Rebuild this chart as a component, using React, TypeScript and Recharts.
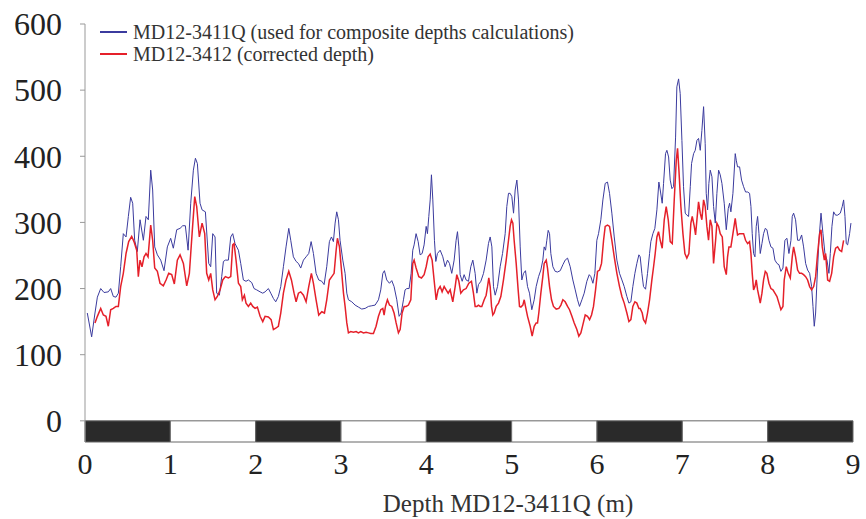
import React from "react"
import { LineChart, Line, XAxis, YAxis, ReferenceArea, Legend } from "recharts"

// depth (m) vs value
const md3411Q: [number, number][] = [
  [0.027, 163], [0.078, 127], [0.117, 163], [0.145, 187], [0.184, 200], [0.223, 194], [0.273, 195], [0.301, 200],
  [0.332, 188], [0.363, 187], [0.391, 193], [0.418, 233], [0.449, 283], [0.481, 278], [0.508, 309], [0.535, 338],
  [0.559, 329], [0.582, 273], [0.613, 256], [0.645, 304], [0.684, 273], [0.715, 309], [0.742, 304], [0.77, 379],
  [0.793, 349], [0.817, 263], [0.848, 251], [0.887, 243], [0.926, 227], [0.965, 263], [1.004, 276], [1.035, 261],
  [1.075, 289], [1.114, 291], [1.145, 295], [1.176, 295], [1.208, 258], [1.239, 329], [1.27, 379], [1.294, 397],
  [1.317, 389], [1.348, 329], [1.372, 319], [1.411, 316], [1.45, 238], [1.473, 233], [1.497, 283], [1.524, 278],
  [1.543, 193], [1.575, 190], [1.602, 218], [1.622, 241], [1.645, 243], [1.68, 243], [1.708, 278], [1.731, 283],
  [1.758, 268], [1.798, 258], [1.825, 238], [1.856, 213], [1.887, 211], [1.915, 213], [1.954, 209], [1.981, 200],
  [2.012, 198], [2.052, 195], [2.083, 193], [2.11, 195], [2.149, 200], [2.177, 193], [2.208, 185], [2.235, 180],
  [2.266, 188], [2.294, 203], [2.325, 233], [2.356, 263], [2.388, 291], [2.411, 273], [2.442, 248], [2.474, 241],
  [2.501, 238], [2.528, 231], [2.56, 243], [2.591, 248], [2.622, 253], [2.65, 271], [2.677, 253], [2.708, 223],
  [2.739, 213], [2.775, 211], [2.802, 206], [2.833, 233], [2.864, 271], [2.888, 278], [2.911, 271], [2.931, 299],
  [2.95, 316], [2.97, 304], [2.989, 273], [3.021, 243], [3.048, 223], [3.068, 193], [3.087, 183], [3.126, 180],
  [3.165, 175], [3.204, 172], [3.243, 169], [3.283, 170], [3.322, 173], [3.361, 174], [3.4, 175], [3.439, 183],
  [3.466, 198], [3.49, 223], [3.509, 227], [3.536, 213], [3.568, 208], [3.595, 212], [3.622, 203], [3.654, 183],
  [3.681, 158], [3.705, 163], [3.732, 183], [3.751, 198], [3.771, 200], [3.798, 200], [3.822, 223], [3.841, 258],
  [3.857, 266], [3.88, 283], [3.904, 271], [3.927, 251], [3.951, 253], [3.974, 266], [3.998, 294], [4.013, 283],
  [4.029, 309], [4.045, 334], [4.06, 372], [4.076, 334], [4.095, 273], [4.111, 241], [4.13, 253], [4.162, 258],
  [4.193, 248], [4.22, 233], [4.248, 243], [4.271, 238], [4.298, 223], [4.326, 243], [4.349, 273], [4.365, 286],
  [4.381, 263], [4.396, 221], [4.42, 211], [4.443, 221], [4.466, 213], [4.494, 211], [4.521, 233], [4.545, 243],
  [4.572, 223], [4.592, 193], [4.611, 206], [4.639, 211], [4.67, 223], [4.701, 243], [4.728, 268], [4.748, 278],
  [4.768, 263], [4.787, 203], [4.807, 190], [4.834, 203], [4.865, 233], [4.893, 253], [4.924, 283], [4.943, 324],
  [4.963, 344], [4.982, 344], [5.002, 339], [5.022, 314], [5.041, 349], [5.061, 364], [5.08, 334], [5.1, 263],
  [5.119, 213], [5.139, 223], [5.162, 227], [5.186, 203], [5.209, 193], [5.236, 168], [5.264, 183], [5.287, 203],
  [5.315, 218], [5.342, 228], [5.365, 243], [5.381, 263], [5.397, 258], [5.412, 273], [5.428, 288], [5.444, 283],
  [5.459, 253], [5.483, 233], [5.51, 226], [5.537, 225], [5.569, 227], [5.6, 236], [5.627, 243], [5.655, 246],
  [5.686, 233], [5.717, 213], [5.745, 198], [5.772, 183], [5.795, 173], [5.823, 183], [5.85, 193], [5.881, 211],
  [5.909, 221], [5.928, 218], [5.952, 208], [5.975, 223], [5.998, 273], [6.018, 283], [6.045, 304], [6.069, 334],
  [6.096, 359], [6.123, 361], [6.147, 344], [6.174, 314], [6.202, 278], [6.233, 243], [6.264, 223], [6.292, 213],
  [6.319, 203], [6.35, 188], [6.374, 178], [6.397, 180], [6.42, 203], [6.444, 223], [6.467, 238], [6.491, 251],
  [6.506, 248], [6.526, 223], [6.545, 203], [6.569, 199], [6.592, 223], [6.616, 253], [6.631, 271], [6.655, 283],
  [6.678, 291], [6.702, 319], [6.725, 361], [6.741, 349], [6.764, 329], [6.78, 359], [6.803, 404], [6.819, 409],
  [6.839, 399], [6.858, 364], [6.878, 351], [6.897, 354], [6.921, 429], [6.936, 505], [6.956, 517], [6.975, 495],
  [6.995, 424], [7.014, 354], [7.034, 314], [7.053, 311], [7.073, 309], [7.093, 354], [7.108, 389], [7.132, 404],
  [7.151, 409], [7.171, 424], [7.19, 427], [7.21, 409], [7.229, 439], [7.249, 475], [7.268, 419], [7.28, 344],
  [7.296, 319], [7.311, 359], [7.327, 379], [7.347, 369], [7.366, 324], [7.386, 299], [7.405, 344], [7.425, 379],
  [7.444, 372], [7.464, 359], [7.491, 329], [7.515, 289], [7.538, 321], [7.554, 329], [7.569, 316], [7.593, 344],
  [7.62, 404], [7.632, 394], [7.647, 384], [7.671, 384], [7.694, 364], [7.718, 354], [7.741, 346], [7.765, 346],
  [7.788, 344], [7.804, 324], [7.819, 283], [7.835, 253], [7.851, 248], [7.866, 294], [7.882, 309], [7.898, 283],
  [7.913, 253], [7.933, 268], [7.952, 283], [7.972, 291], [7.991, 289], [8.015, 273], [8.038, 263], [8.062, 261],
  [8.085, 243], [8.109, 238], [8.132, 236], [8.155, 226], [8.179, 231], [8.202, 273], [8.226, 276], [8.249, 253],
  [8.273, 273], [8.288, 309], [8.304, 314], [8.327, 304], [8.351, 273], [8.374, 273], [8.398, 281], [8.421, 263],
  [8.445, 238], [8.468, 228], [8.492, 223], [8.515, 203], [8.531, 173], [8.546, 143], [8.562, 163], [8.578, 213],
  [8.601, 273], [8.625, 314], [8.648, 283], [8.671, 253], [8.695, 243], [8.718, 223], [8.734, 253], [8.753, 294],
  [8.773, 316], [8.796, 311], [8.82, 311], [8.851, 314], [8.874, 324], [8.89, 334], [8.906, 309], [8.921, 268],
  [8.937, 266], [8.96, 283], [8.976, 299],
]

const md3412: [number, number][] = [
  [0.117, 148], [0.145, 158], [0.184, 170], [0.215, 160], [0.246, 158], [0.273, 143], [0.301, 168], [0.332, 170],
  [0.363, 173], [0.391, 173], [0.418, 203], [0.449, 223], [0.481, 253], [0.512, 271], [0.547, 279], [0.574, 271],
  [0.606, 258], [0.625, 218], [0.645, 243], [0.668, 233], [0.692, 248], [0.715, 253], [0.739, 248], [0.77, 296],
  [0.793, 273], [0.817, 231], [0.848, 226], [0.879, 208], [0.918, 204], [0.95, 213], [0.981, 223], [1.016, 221],
  [1.047, 207], [1.082, 243], [1.114, 251], [1.153, 238], [1.192, 204], [1.223, 223], [1.255, 283], [1.286, 339],
  [1.309, 324], [1.34, 278], [1.372, 299], [1.403, 283], [1.426, 223], [1.45, 213], [1.473, 223], [1.497, 198],
  [1.524, 183], [1.551, 188], [1.583, 198], [1.614, 213], [1.645, 218], [1.68, 216], [1.708, 218], [1.731, 266],
  [1.747, 268], [1.77, 243], [1.798, 208], [1.825, 203], [1.844, 183], [1.868, 190], [1.887, 178], [1.915, 173],
  [1.942, 178], [1.966, 173], [1.993, 170], [2.02, 172], [2.052, 158], [2.083, 150], [2.11, 158], [2.149, 157],
  [2.181, 153], [2.208, 138], [2.235, 140], [2.266, 143], [2.294, 163], [2.325, 193], [2.356, 213], [2.388, 226],
  [2.419, 213], [2.45, 193], [2.474, 180], [2.501, 193], [2.528, 195], [2.56, 190], [2.591, 180], [2.622, 203],
  [2.653, 223], [2.677, 208], [2.708, 183], [2.739, 160], [2.775, 165], [2.806, 163], [2.833, 183], [2.864, 213],
  [2.892, 218], [2.919, 223], [2.943, 258], [2.958, 276], [2.982, 263], [3.009, 223], [3.029, 193], [3.048, 173],
  [3.068, 148], [3.087, 133], [3.114, 135], [3.146, 134], [3.177, 135], [3.204, 133], [3.232, 135], [3.263, 133],
  [3.294, 134], [3.322, 133], [3.349, 132], [3.38, 132], [3.411, 143], [3.439, 158], [3.466, 168], [3.49, 170],
  [3.505, 160], [3.521, 173], [3.544, 183], [3.568, 175], [3.595, 173], [3.622, 163], [3.646, 148], [3.673, 133],
  [3.693, 138], [3.716, 163], [3.74, 173], [3.763, 173], [3.79, 175], [3.818, 183], [3.841, 238], [3.857, 243],
  [3.88, 231], [3.912, 218], [3.943, 216], [3.974, 221], [3.998, 233], [4.021, 248], [4.045, 252], [4.068, 243],
  [4.091, 213], [4.115, 183], [4.138, 198], [4.162, 203], [4.185, 195], [4.209, 203], [4.232, 198], [4.256, 193],
  [4.279, 198], [4.31, 180], [4.338, 203], [4.357, 221], [4.381, 211], [4.404, 193], [4.435, 198], [4.466, 200],
  [4.498, 208], [4.529, 211], [4.552, 193], [4.572, 173], [4.592, 173], [4.611, 175], [4.631, 173], [4.65, 173],
  [4.678, 183], [4.701, 190], [4.717, 203], [4.732, 216], [4.748, 203], [4.764, 173], [4.779, 160], [4.795, 163],
  [4.818, 173], [4.846, 178], [4.873, 188], [4.904, 213], [4.936, 243], [4.963, 273], [4.982, 294], [4.998, 304],
  [5.014, 299], [5.029, 273], [5.053, 238], [5.076, 198], [5.092, 173], [5.108, 172], [5.131, 175], [5.147, 183],
  [5.162, 173], [5.186, 158], [5.217, 143], [5.24, 128], [5.264, 143], [5.287, 148], [5.303, 148], [5.318, 163],
  [5.342, 193], [5.365, 218], [5.381, 238], [5.405, 243], [5.42, 231], [5.444, 203], [5.467, 183], [5.49, 173],
  [5.522, 169], [5.553, 170], [5.577, 175], [5.6, 183], [5.627, 180], [5.655, 173], [5.678, 168], [5.706, 158],
  [5.733, 148], [5.764, 138], [5.787, 128], [5.811, 133], [5.834, 145], [5.862, 160], [5.889, 158], [5.913, 153],
  [5.936, 160], [5.959, 173], [5.983, 198], [6.006, 226], [6.03, 228], [6.053, 238], [6.077, 273], [6.096, 294],
  [6.123, 296], [6.147, 294], [6.174, 273], [6.202, 248], [6.233, 223], [6.264, 203], [6.292, 188], [6.319, 178],
  [6.35, 163], [6.374, 150], [6.397, 153], [6.42, 173], [6.444, 180], [6.467, 178], [6.491, 170], [6.506, 170],
  [6.53, 163], [6.545, 153], [6.569, 148], [6.592, 163], [6.616, 183], [6.643, 213], [6.663, 233], [6.682, 253],
  [6.702, 278], [6.721, 286], [6.741, 273], [6.764, 261], [6.788, 304], [6.811, 324], [6.835, 304], [6.858, 271],
  [6.882, 268], [6.905, 334], [6.929, 394], [6.944, 412], [6.96, 379], [6.983, 324], [7.007, 283], [7.03, 253],
  [7.053, 246], [7.077, 253], [7.1, 299], [7.116, 309], [7.14, 294], [7.155, 281], [7.171, 304], [7.19, 331],
  [7.21, 314], [7.229, 304], [7.249, 334], [7.268, 324], [7.288, 294], [7.307, 273], [7.327, 304], [7.347, 294],
  [7.366, 238], [7.39, 273], [7.405, 299], [7.425, 294], [7.444, 283], [7.468, 278], [7.491, 233], [7.515, 221],
  [7.53, 248], [7.546, 263], [7.569, 263], [7.593, 283], [7.62, 306], [7.632, 294], [7.647, 281], [7.671, 283],
  [7.694, 283], [7.718, 283], [7.741, 273], [7.765, 268], [7.788, 271], [7.804, 253], [7.819, 223], [7.835, 198],
  [7.851, 203], [7.866, 213], [7.882, 198], [7.898, 188], [7.913, 178], [7.933, 193], [7.952, 213], [7.972, 226],
  [7.991, 223], [8.015, 208], [8.038, 200], [8.062, 198], [8.085, 193], [8.109, 188], [8.132, 178], [8.155, 168],
  [8.179, 173], [8.194, 213], [8.218, 233], [8.241, 223], [8.265, 216], [8.288, 248], [8.304, 263], [8.327, 248],
  [8.351, 228], [8.374, 223], [8.398, 223], [8.421, 221], [8.445, 218], [8.468, 213], [8.492, 203], [8.515, 198],
  [8.539, 203], [8.562, 218], [8.585, 253], [8.609, 283], [8.625, 289], [8.64, 263], [8.664, 243], [8.679, 253],
  [8.703, 213], [8.726, 211], [8.75, 223], [8.773, 248], [8.796, 261], [8.82, 263], [8.843, 258], [8.867, 256],
  [8.89, 273],
]

const depthTicks = [0, 1, 2, 3, 4, 5, 6, 7, 8, 9]
const valueTicks = [0, 100, 200, 300, 400, 500, 600]
const series = [
  { key: "q", name: "MD12-3411Q (used for composite depths calculations)", color: "#3b3b9e", points: md3411Q, width: 1 },
  { key: "r", name: "MD12-3412 (corrected depth)", color: "#e5202a", points: md3412, width: 1.5 },
]

const serif = "'Liberation Serif', 'Times New Roman', serif"

function LegendBox() {
  return (
    <div style={{ fontFamily: serif, fontSize: 20, lineHeight: "22px", color: "#333" }}>
      {series.map((s) => (
        <div key={s.key} style={{ display: "flex", alignItems: "center", whiteSpace: "nowrap" }}>
          <span style={{ display: "inline-block", width: 27, height: 0, borderTop: `2px solid ${s.color}`, marginRight: 6 }} />
          {s.name}
        </div>
      ))}
    </div>
  )
}

export default function App() {
  return (
    <div style={{ position: "absolute", left: 0, top: 0, background: "#fff" }}>
      <LineChart width={866} height={519} margin={{ top: 24, right: 13, bottom: 0, left: 0 }}>
        <XAxis
          type="number"
          dataKey="depth"
          domain={[0, 9]}
          ticks={depthTicks}
          allowDataOverflow
          axisLine={false}
          tickLine={false}
          tickSize={6}
          tickMargin={5}
          height={77}
          tick={{ fontFamily: serif, fontSize: 30, fill: "#222" }}
          label={{ value: "Depth MD12-3411Q (m)", position: "insideBottom", offset: 7, dx: 39, style: { fontFamily: serif, fontSize: 25, fill: "#333" } }}
        />
        <YAxis
          type="number"
          domain={[-32, 600]}
          ticks={valueTicks}
          allowDataOverflow
          width={85}
          tickSize={5}
          tickMargin={18}
          stroke="#999"
          tick={{ fontFamily: serif, fontSize: 32, fill: "#222" }}
        />
        {depthTicks.slice(0, -1).map((d) => (
          <ReferenceArea
            key={d}
            x1={d}
            x2={d + 1}
            y1={-32}
            y2={0}
            fill={d % 2 === 0 ? "#2a2a2a" : "#ffffff"}
            fillOpacity={1}
            stroke="#666"
            strokeWidth={1}
          />
        ))}
        {series.map((s) => (
          <Line
            key={s.key}
            data={s.points.map(([depth, v]) => ({ depth, v }))}
            dataKey="v"
            name={s.name}
            type="linear"
            stroke={s.color}
            strokeWidth={s.width}
            dot={false}
            activeDot={false}
            isAnimationActive={false}
          />
        ))}
        <Legend
          layout="vertical"
          align="center"
          verticalAlign="middle"
          content={() => <LegendBox />}
          wrapperStyle={{ left: 100, top: 21, width: "auto", height: "auto" }}
        />
      </LineChart>
    </div>
  )
}
